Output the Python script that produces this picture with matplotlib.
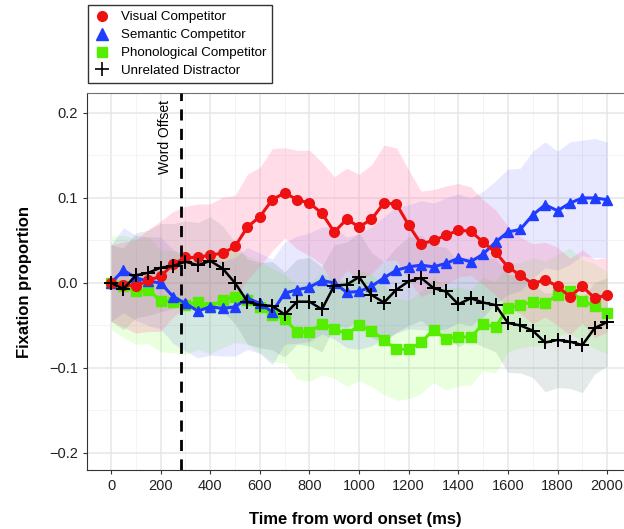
import numpy as np
import matplotlib
matplotlib.use("Agg")
import matplotlib.pyplot as plt
from matplotlib.lines import Line2D

plt.rcParams['font.family'] = ['Liberation Sans', 'DejaVu Sans']

# time axis, 50 ms bins
time_ms = np.arange(0, 2001, 50)

visual = [0.0, -0.002, -0.004, 0.003, 0.008, 0.022, 0.03, 0.03, 0.033, 0.035,
          0.043, 0.066, 0.078, 0.098, 0.106, 0.098, 0.094, 0.082, 0.06, 0.075,
          0.066, 0.075, 0.094, 0.093, 0.068, 0.046, 0.05, 0.056, 0.062, 0.061,
          0.048, 0.036, 0.019, 0.009, -0.001, 0.004, -0.004, -0.016, -0.004, -0.018,
          -0.014]
semantic = [0.0, 0.015, 0.006, 0.002, 0.0, -0.016, -0.024, -0.033, -0.028, -0.03,
            -0.028, -0.018, -0.024, -0.034, -0.012, -0.008, -0.005, 0.003, 0.0, -0.011,
            -0.01, -0.004, 0.006, 0.015, 0.019, 0.021, 0.019, 0.023, 0.029, 0.025,
            0.034, 0.048, 0.06, 0.063, 0.08, 0.092, 0.085, 0.094, 0.1, 0.1,
            0.098]
phono = [0.0, -0.004, -0.01, -0.008, -0.021, -0.022, -0.026, -0.022, -0.028, -0.02,
         -0.016, -0.02, -0.028, -0.038, -0.042, -0.058, -0.058, -0.048, -0.054, -0.06,
         -0.05, -0.056, -0.067, -0.078, -0.078, -0.07, -0.055, -0.066, -0.063, -0.064,
         -0.048, -0.052, -0.029, -0.026, -0.022, -0.024, -0.014, -0.009, -0.021, -0.027,
         -0.035]
unrelated = [0.0, -0.007, 0.009, 0.012, 0.018, 0.02, 0.025, 0.021, 0.026, 0.017,
             0.0, -0.022, -0.026, -0.027, -0.037, -0.022, -0.022, -0.031, -0.003, -0.002,
             0.007, -0.014, -0.023, -0.008, 0.002, 0.006, -0.006, -0.01, -0.025, -0.018,
             -0.023, -0.026, -0.047, -0.05, -0.056, -0.07, -0.067, -0.069, -0.073, -0.053,
             -0.046]

# ribbon half widths
visual_se = [0.045, 0.05, 0.055, 0.06, 0.065, 0.062, 0.06, 0.063, 0.06, 0.066,
             0.06, 0.062, 0.058, 0.06, 0.053, 0.058, 0.062, 0.06, 0.065, 0.06,
             0.062, 0.064, 0.068, 0.066, 0.065, 0.062, 0.06, 0.058, 0.055, 0.052,
             0.05, 0.05, 0.048, 0.045, 0.047, 0.044, 0.046, 0.045, 0.043, 0.046,
             0.044]
semantic_se = [0.045, 0.05, 0.05, 0.052, 0.054, 0.055, 0.056, 0.055, 0.057, 0.056,
               0.058, 0.06, 0.059, 0.062, 0.06, 0.063, 0.064, 0.063, 0.066, 0.065,
               0.068, 0.07, 0.072, 0.074, 0.073, 0.076, 0.075, 0.077, 0.076, 0.075,
               0.074, 0.072, 0.074, 0.072, 0.075, 0.074, 0.07, 0.072, 0.068, 0.07,
               0.068]
phono_se = [0.055, 0.06, 0.062, 0.063, 0.06, 0.06, 0.058, 0.056, 0.055, 0.056,
            0.054, 0.052, 0.054, 0.055, 0.052, 0.055, 0.058, 0.06, 0.058, 0.062,
            0.065, 0.066, 0.064, 0.06, 0.058, 0.06, 0.062, 0.06, 0.058, 0.056,
            0.055, 0.054, 0.052, 0.05, 0.052, 0.05, 0.048, 0.05, 0.048, 0.05,
            0.048]
unrelated_se = [0.045, 0.048, 0.05, 0.05, 0.052, 0.05, 0.048, 0.05, 0.052, 0.05,
                0.048, 0.05, 0.05, 0.052, 0.05, 0.05, 0.052, 0.05, 0.048, 0.05,
                0.052, 0.05, 0.048, 0.05, 0.052, 0.05, 0.05, 0.052, 0.05, 0.05,
                0.052, 0.055, 0.058, 0.056, 0.055, 0.058, 0.056, 0.055, 0.056, 0.054,
                0.052]

labels = ['Visual Competitor', 'Semantic Competitor', 'Phonological Competitor', 'Unrelated Distractor']
word_offset = 280

fig = plt.figure(figsize=(6.24, 5.29), dpi=100)
ax = fig.add_axes([87/624, 59/529, (624-87)/624, (470-93)/529])

series = [
    (unrelated, unrelated_se, 'black', '#2f5f55', 0.13, '+'),
    (phono, phono_se, '#55ee00', '#55ff00', 0.13, 's'),
    (semantic, semantic_se, '#1f3dff', '#0000ff', 0.09, '^'),
    (visual, visual_se, '#ee1111', '#ff77a7', 0.25, 'o'),
]

for y, se, col, fcol, a, m in series:
    y = np.array(y)
    se = np.array(se)
    ax.fill_between(time_ms, y - se, y + se, color=fcol, alpha=a, lw=0)

for y, se, col, fcol, a, m in series:
    if m == '+':
        ax.plot(time_ms, y, color=col, lw=1.8, marker=m, ms=10, mew=1.4, zorder=4)
    else:
        ax.plot(time_ms, y, color=col, lw=2.2, marker=m, ms=7, zorder=3)

ax.axvline(word_offset, color='black', ls=(0, (4, 3)), lw=2, zorder=5)
ax.text(218, 0.215, 'Word Offset', rotation=90, ha='center', va='top', fontsize=10)

ax.set_xlim(-97, 2068)
ax.set_ylim(-0.22, 0.2235)
ax.set_xticks(np.arange(0, 2001, 200))
ax.set_xticks(np.arange(100, 2001, 200), minor=True)
ax.set_yticks([-0.2, -0.1, 0.0, 0.1, 0.2])
ax.set_yticks([-0.15, -0.05, 0.05, 0.15], minor=True)
ax.grid(True, which='major', color='#e6e8e8', lw=1.1)
ax.grid(True, which='minor', color='#f2f3f3', lw=0.6)
ax.set_axisbelow(True)
ax.tick_params(which='minor', length=0)
ax.tick_params(which='major', length=3, color='#333333', labelsize=10.5, labelcolor='#222222')

ax.spines['right'].set_visible(False)
ax.spines['top'].set_color('#707070')
ax.spines['left'].set_color('#333333')
ax.spines['bottom'].set_color('#333333')

ax.set_xlabel('Time from word onset (ms)', fontsize=12, fontweight='bold', labelpad=14)
ax.set_ylabel('Fixation proportion', fontsize=12, fontweight='bold', labelpad=12)

handles = [
    Line2D([], [], color='#ee1111', marker='o', ls='none', ms=7),
    Line2D([], [], color='#1f3dff', marker='^', ls='none', ms=8),
    Line2D([], [], color='#55ee00', marker='s', ls='none', ms=7),
    Line2D([], [], color='black', marker='+', ls='none', ms=10, mew=1.2),
]
leg = fig.legend(handles, labels, loc='upper left', bbox_to_anchor=(88/624, 1 - 5/529),
                 fontsize=9.6, frameon=True, fancybox=False, borderpad=0.45,
                 labelspacing=0.42, handletextpad=0.8, handlelength=1.2, borderaxespad=0)
leg.get_frame().set_edgecolor('black')
leg.get_frame().set_linewidth(1)

fig.savefig('out.png', dpi=100)
